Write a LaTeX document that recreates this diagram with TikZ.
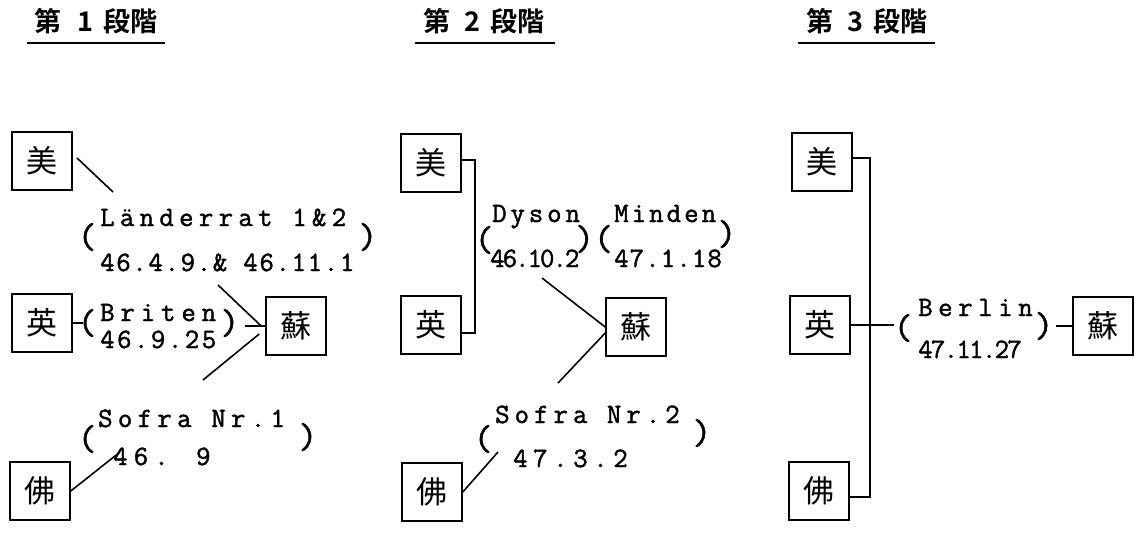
\documentclass[tikz,border=0pt]{standalone}
\usepackage{fontspec}
\newfontfamily\tw[FakeBold=1.5]{Latin Modern Mono}
\newfontfamily\cjk{Noto Sans CJK JP}
\newfontfamily\cjkb{Noto Sans CJK JP Bold}
\newcommand{\ls}[2]{{\addfontfeature{LetterSpace=#1}#2}}
\tikzset{
  box/.style={draw, line width=1.6pt, minimum width=60pt, minimum height=58pt, inner sep=0pt, font=\cjk\fontsize{31}{31}\selectfont},
  lbl/.style={anchor=base west, inner sep=0pt, font=\tw\fontsize{28}{28}\selectfont},
  par/.style={anchor=center, inner sep=0pt, font=\tw\fontsize{36}{36}\selectfont},
  ttl/.style={anchor=base west, inner sep=0pt, font=\cjkb\fontsize{27}{27}\selectfont},
  con/.style={line width=1.6pt},
  ul/.style={line width=2pt}
}
\begin{document}
\begin{tikzpicture}[x=1pt,y=-1pt]
\useasboundingbox[fill=white] (0,0) rectangle (1136,533);
% titles
\node[ttl] (t1) at (34,31) {第\hspace{16pt}1\hspace{10pt}段階};
\node[ttl] (t2) at (423,31) {第\hspace{14pt}2\hspace{10pt}段階};
\node[ttl] (t3) at (806,31) {第\hspace{14pt}\textit{3}\hspace{10pt}段階};
\draw[ul] (27,43) -- (165,43);
\draw[ul] (415,43) -- (555,43);
\draw[ul] (798,43) -- (935,43);
% ---------- panel 1 ----------
\node[box] (m1) at (42,161) {美};
\node[box] (y1) at (42,323) {英};
\node[box] (f1) at (40,491) {佛};
\node[box] (s1) at (296,326) {蘇};
\node[lbl] (a1) at (100,226) {\ls{19}{Länderrat 1\&2}};
\node[lbl] (a2) at (100,271) {\ls{6}{46.4.9.\& 46.11.1}};
\node[par] (a1l) at (87,237) {(};
\node[par] (a1r) at (368,237) {)};
\node[lbl] (b1) at (100,321) {\ls{21}{Briten}};
\node[lbl] (b2) at (100,348) {\ls{9}{46.9.25}};
\node[par] (b1l) at (87,323) {(};
\node[par] (b1r) at (230,323) {)};
\node[lbl] (c1) at (98,427) {\ls{19}{Sofra Nr.1}};
\node[lbl] (c2) at (113,465) {\ls{22}{46. 9}};
\node[par] (c1l) at (87,439) {(};
\node[par] (c1r) at (308,437) {)};
\coordinate (p1a) at (77,158);
\coordinate (p1b) at (113,192);
\draw[con] (p1a) -- (p1b);
\coordinate (p1c) at (218,285);
\draw[con] (p1c) -- ([xshift=-4pt]s1.west);
\coordinate (p1d) at (203,380);
\draw[con] (p1d) -- ([xshift=-6pt,yshift=-8pt]s1.west);
\draw[con] (y1.east) -- ++(10,0);
\draw[con] (s1.west) -- ++(-20,0);
\coordinate (p1e) at (120,452);
\draw[con] (f1.east) -- (p1e);
% ---------- panel 2 ----------
\node[box] (m2) at (431,163) {美};
\node[box] (y2) at (431,325) {英};
\node[box] (f2) at (432,492) {佛};
\node[box] (s2) at (636,327) {蘇};
\node[lbl] (d1) at (492,222) {\ls{14}{Dyson}};
\node[lbl] (d2) at (490,267) {\ls{-7}{46.10.2}};
\node[par] (d1l) at (484,240) {(};
\node[par] (dm) at (594,239) {)(};
\node[lbl] (e1) at (614,222) {\ls{11}{Minden}};
\node[lbl] (e2) at (614,267) {\ls{4}{47.1.18}};
\node[par] (e1r) at (727,234) {)};
\node[lbl] (g1) at (495,423) {\ls{18}{Sofra Nr.2}};
\node[lbl] (g2) at (513,467) {\ls{20}{47.3.2}};
\node[par] (g1l) at (483,439) {(};
\node[par] (g1r) at (702,433) {)};
\draw[con] ([yshift=3pt]m2.east) -- ++(13,0) |- ([yshift=-8pt]y2.east);
\coordinate (p2c) at (542,278);
\draw[con] (p2c) -- (s2.west);
\coordinate (p2d) at (558,383);
\draw[con] (p2d) -- ([yshift=-6pt]s2.west);
\coordinate (p2e) at (498,452);
\draw[con] (f2.east) -- (p2e);
% ---------- panel 3 ----------
\node[box] (m3) at (822,162) {美};
\node[box] (y3) at (820,325) {英};
\node[box] (f3) at (819,491) {佛};
\node[box] (s3) at (1103,326) {蘇};
\node[lbl] (h1) at (918,316) {\ls{20}{Berlin}};
\node[lbl] (h2) at (918,358) {\ls{-6}{47.11.27}};
\node[par] (h1l) at (903,328) {(};
\node[par] (h1r) at (1044,326) {)};
\coordinate (vt) at (870,158);
\coordinate (vb) at (870,497);
\draw[con] (m3.east |- vt) -- (vt) -- (vb) -- (f3.east |- vb);
\draw[con] (y3.east) -- (y3.east -| h1l.west);
\draw[con] (s3.west) -- ++(-16,0);
\end{tikzpicture}
\end{document}
